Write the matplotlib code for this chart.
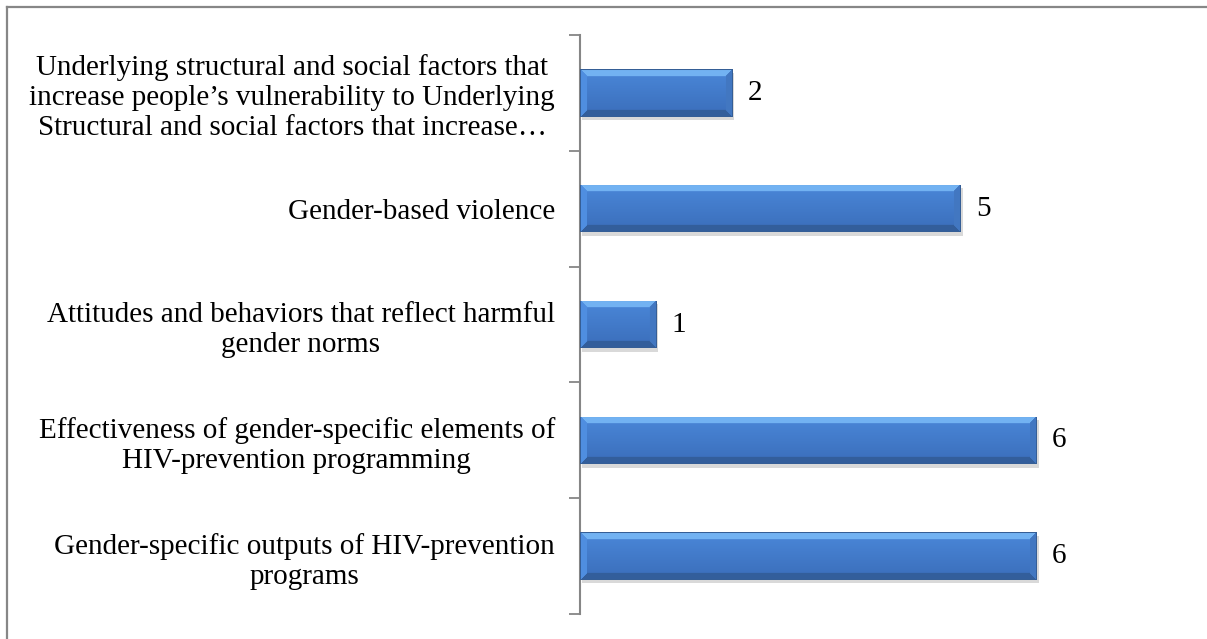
import numpy as np
import matplotlib
matplotlib.use("Agg")
import matplotlib.pyplot as plt
from matplotlib import patheffects
from matplotlib.lines import Line2D

categories = [
    "Underlying structural and social factors that\n"
    "increase people\u2019s vulnerability to Underlying\n"
    "Structural and social factors that increase\u2026",
    "Gender-based violence",
    "Attitudes and behaviors that reflect harmful\ngender norms",
    "Effectiveness of gender-specific elements of\nHIV-prevention programming",
    "Gender-specific outputs of HIV-prevention\nprograms",
]
counts = [2, 5, 1, 6, 6]

plt.rcParams["font.family"] = ["Liberation Serif", "DejaVu Serif"]

W, H, DPI = 1207, 639, 100
fig = plt.figure(figsize=(W / DPI, H / DPI), dpi=DPI)
ax = fig.add_axes([580 / W, 25 / H, 533 / W, 579 / H])

y = np.arange(len(categories))
bar_h = 0.41
bars = ax.barh(y, counts, height=bar_h, color="#3f74bd", edgecolor="none", zorder=2)
ax.set_xlim(0, 7)
ax.set_ylim(len(categories) - 0.5, -0.5)

# soft drop shadow under each bar
for b in bars:
    b.set_path_effects([patheffects.SimplePatchShadow(offset=(1.5, -2.5), shadow_rgbFace="#a0a0a0", alpha=0.4),
                        patheffects.Normal()])


def bevel_image(wpx, hpx, bev=7):
    """Picture-frame bevel: light top, dark bottom, shaded ends."""
    yy, xx = np.mgrid[0:hpx, 0:wpx].astype(float)
    t = yy / max(hpx - 1, 1)
    top = np.array([0.29, 0.53, 0.85])
    bot = np.array([0.23, 0.43, 0.73])
    img = top[None, None, :] * (1 - t[..., None]) + bot[None, None, :] * t[..., None]
    d_top, d_bot = yy, hpx - 1 - yy
    d_left, d_right = xx, wpx - 1 - xx
    dmin = np.minimum(np.minimum(d_top, d_bot), np.minimum(d_left, d_right))
    band = dmin < bev
    cols = {
        "top": np.array([0.45, 0.70, 0.95]),
        "bot": np.array([0.20, 0.37, 0.61]),
        "left": np.array([0.31, 0.56, 0.88]),
        "right": np.array([0.26, 0.47, 0.76]),
    }
    for key, d in (("top", d_top), ("bot", d_bot), ("left", d_left), ("right", d_right)):
        m = band & (d == dmin)
        img[m] = cols[key]
    # thin dark outline
    edge = dmin < 1
    img[edge] = np.array([0.21, 0.37, 0.59])
    return img


fig.canvas.draw()
for b in bars:
    x0, y0 = b.get_x(), b.get_y()
    w, h = b.get_width(), b.get_height()
    p0 = ax.transData.transform((x0, y0))
    p1 = ax.transData.transform((x0 + w, y0 + h))
    wpx = int(round(abs(p1[0] - p0[0])))
    hpx = int(round(abs(p1[1] - p0[1])))
    img = bevel_image(wpx, hpx)
    im = ax.imshow(img, extent=(x0, x0 + w, y0 + h, y0), aspect="auto",
                   interpolation="bilinear", zorder=3)
    im.set_clip_path(b)
    ax.annotate(str(int(w)), xy=(x0 + w, y0 + h / 2), xytext=(11, 0),
                textcoords="offset points", ha="left", va="center",
                fontsize=21, color="black")

ax.set_xlim(0, 7)
ax.set_ylim(len(categories) - 0.5, -0.5)

ax.set_yticks(y)
ax.set_yticklabels(categories, fontsize=21, multialignment="center", linespacing=1.2)
ax.set_yticks(np.arange(-0.5, len(categories)), minor=True)
ax.tick_params(axis="y", which="major", length=0, pad=18)
ax.tick_params(axis="y", which="minor", length=8, width=1.3, color="#868686")
ax.set_xticks([])
for s in ("top", "right", "bottom"):
    ax.spines[s].set_visible(False)
ax.spines["left"].set_color("#868686")
ax.spines["left"].set_linewidth(1.5)

# outer chart frame (top and left edges)
fig.add_artist(Line2D([6.5 / W, 6.5 / W], [0, 1 - 6.5 / H], transform=fig.transFigure,
                      color="#878787", lw=1.6))
fig.add_artist(Line2D([6.5 / W, 1], [1 - 6.5 / H, 1 - 6.5 / H], transform=fig.transFigure,
                      color="#878787", lw=1.6))

fig.savefig("out.png", dpi=DPI)
plt.close(fig)
